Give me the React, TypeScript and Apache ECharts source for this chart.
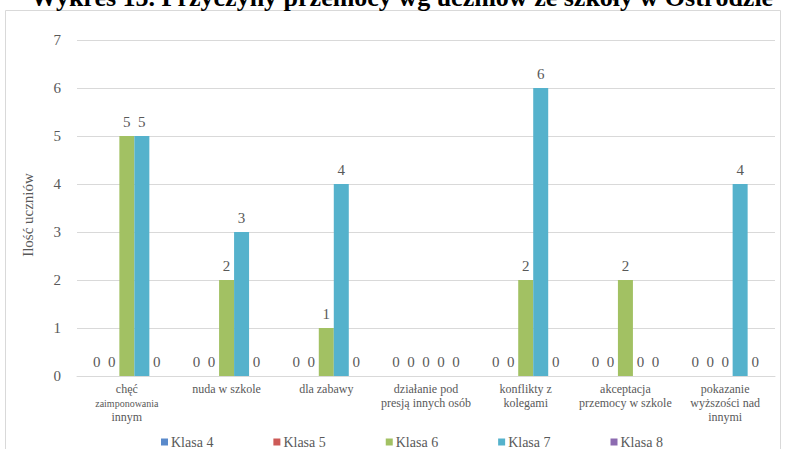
import React, { useEffect, useRef } from "react";
import * as echarts from "echarts";

const title = "Wykres 15. Przyczyny przemocy wg uczniów ze szkoły w Ostródzie";
const yAxisName = "Ilość uczniów";
const categories = [
  "chęć\nzaimponowania\ninnym",
  "nuda w szkole",
  "dla zabawy",
  "działanie pod\npresją innych osób",
  "konflikty z\nkolegami",
  "akceptacja\nprzemocy w szkole",
  "pokazanie\nwyższości nad\ninnymi",
];
const seriesNames = ["Klasa 4", "Klasa 5", "Klasa 6", "Klasa 7", "Klasa 8"];
const klasa4 = [0, 0, 0, 0, 0, 0, 0];
const klasa5 = [0, 0, 0, 0, 0, 0, 0];
const klasa6 = [5, 2, 1, 0, 2, 2, 0];
const klasa7 = [5, 3, 4, 0, 6, 0, 4];
const klasa8 = [0, 0, 0, 0, 0, 0, 0];
const seriesData = [klasa4, klasa5, klasa6, klasa7, klasa8];
const colors = ["#5A8ACB", "#CD5A57", "#A2C163", "#55B2CC", "#8C6BB0"];

const SERIF = "'Liberation Serif', 'DejaVu Serif', serif";
const GRAY = "#595959";

export default function App() {
  const ref = useRef<HTMLDivElement>(null);
  useEffect(() => {
    if (!ref.current) return;
    const chart = echarts.init(ref.current, null, { renderer: "svg" });
    chart.setOption({
      animation: false,
      backgroundColor: "#ffffff",
      textStyle: { fontFamily: SERIF },
      graphic: [
        {
          type: "rect",
          shape: { x: 5.5, y: 10.5, width: 775, height: 460 },
          style: { fill: "none", stroke: "#d9d9d9", lineWidth: 1 },
          z: 0,
        },
        {
          type: "text",
          x: 402,
          y: -3,
          style: {
            text: title,
            fontFamily: SERIF,
            fontWeight: "bold",
            fontSize: 26,
            fill: "#000000",
            align: "center",
            verticalAlign: "middle",
          },
          z: 10,
        },
        {
          type: "text",
          x: 28,
          y: 215,
          rotation: Math.PI / 2,
          style: {
            text: yAxisName,
            fontFamily: SERIF,
            fontSize: 15,
            fill: GRAY,
            align: "center",
            verticalAlign: "middle",
          },
        },
      ],
      legend: {
        data: seriesNames,
        left: 161,
        top: 435,
        padding: 0,
        itemWidth: 7,
        itemHeight: 7,
        itemGap: 60,
        icon: "rect",
        textStyle: { fontFamily: SERIF, fontSize: 14, color: GRAY, padding: [0, 0, 0, -2] },
      },
      grid: { left: 77, right: 10, top: 40, bottom: 73, containLabel: false },
      xAxis: {
        type: "category",
        data: categories,
        axisLine: { show: true, lineStyle: { color: "#d9d9d9", width: 1 } },
        axisTick: { show: false },
        axisLabel: {
          interval: 0,
          margin: 6,
          fontFamily: SERIF,
          fontSize: 12,
          lineHeight: 14,
          color: GRAY,
          formatter: (v: string) => {
            if (v.indexOf("zaimponowania") >= 0) {
              return "chęć\n{s|zaimponowania}\ninnym";
            }
            return v;
          },
          rich: {
            s: { fontSize: 10, fontFamily: SERIF, color: GRAY, lineHeight: 14 },
          },
        },
      },
      yAxis: {
        type: "value",
        min: 0,
        max: 7,
        interval: 1,
        axisLine: { show: false },
        axisTick: { show: false },
        axisLabel: { fontFamily: SERIF, fontSize: 15, color: GRAY, margin: 16 },
        splitLine: { lineStyle: { color: "#d9d9d9", width: 1 } },
      },
      series: seriesNames.map((name, i) => ({
        name,
        type: "bar",
        data: seriesData[i],
        barWidth: 15,
        barGap: "0%",
        itemStyle: { color: colors[i] },
        label: {
          show: true,
          position: "top",
          distance: 7,
          fontFamily: SERIF,
          fontSize: 15,
          color: GRAY,
        },
      })),
    });
    return () => chart.dispose();
  }, []);
  return <div ref={ref} style={{ width: 785, height: 449, position: "absolute", left: 0, top: 0 }} />;
}
